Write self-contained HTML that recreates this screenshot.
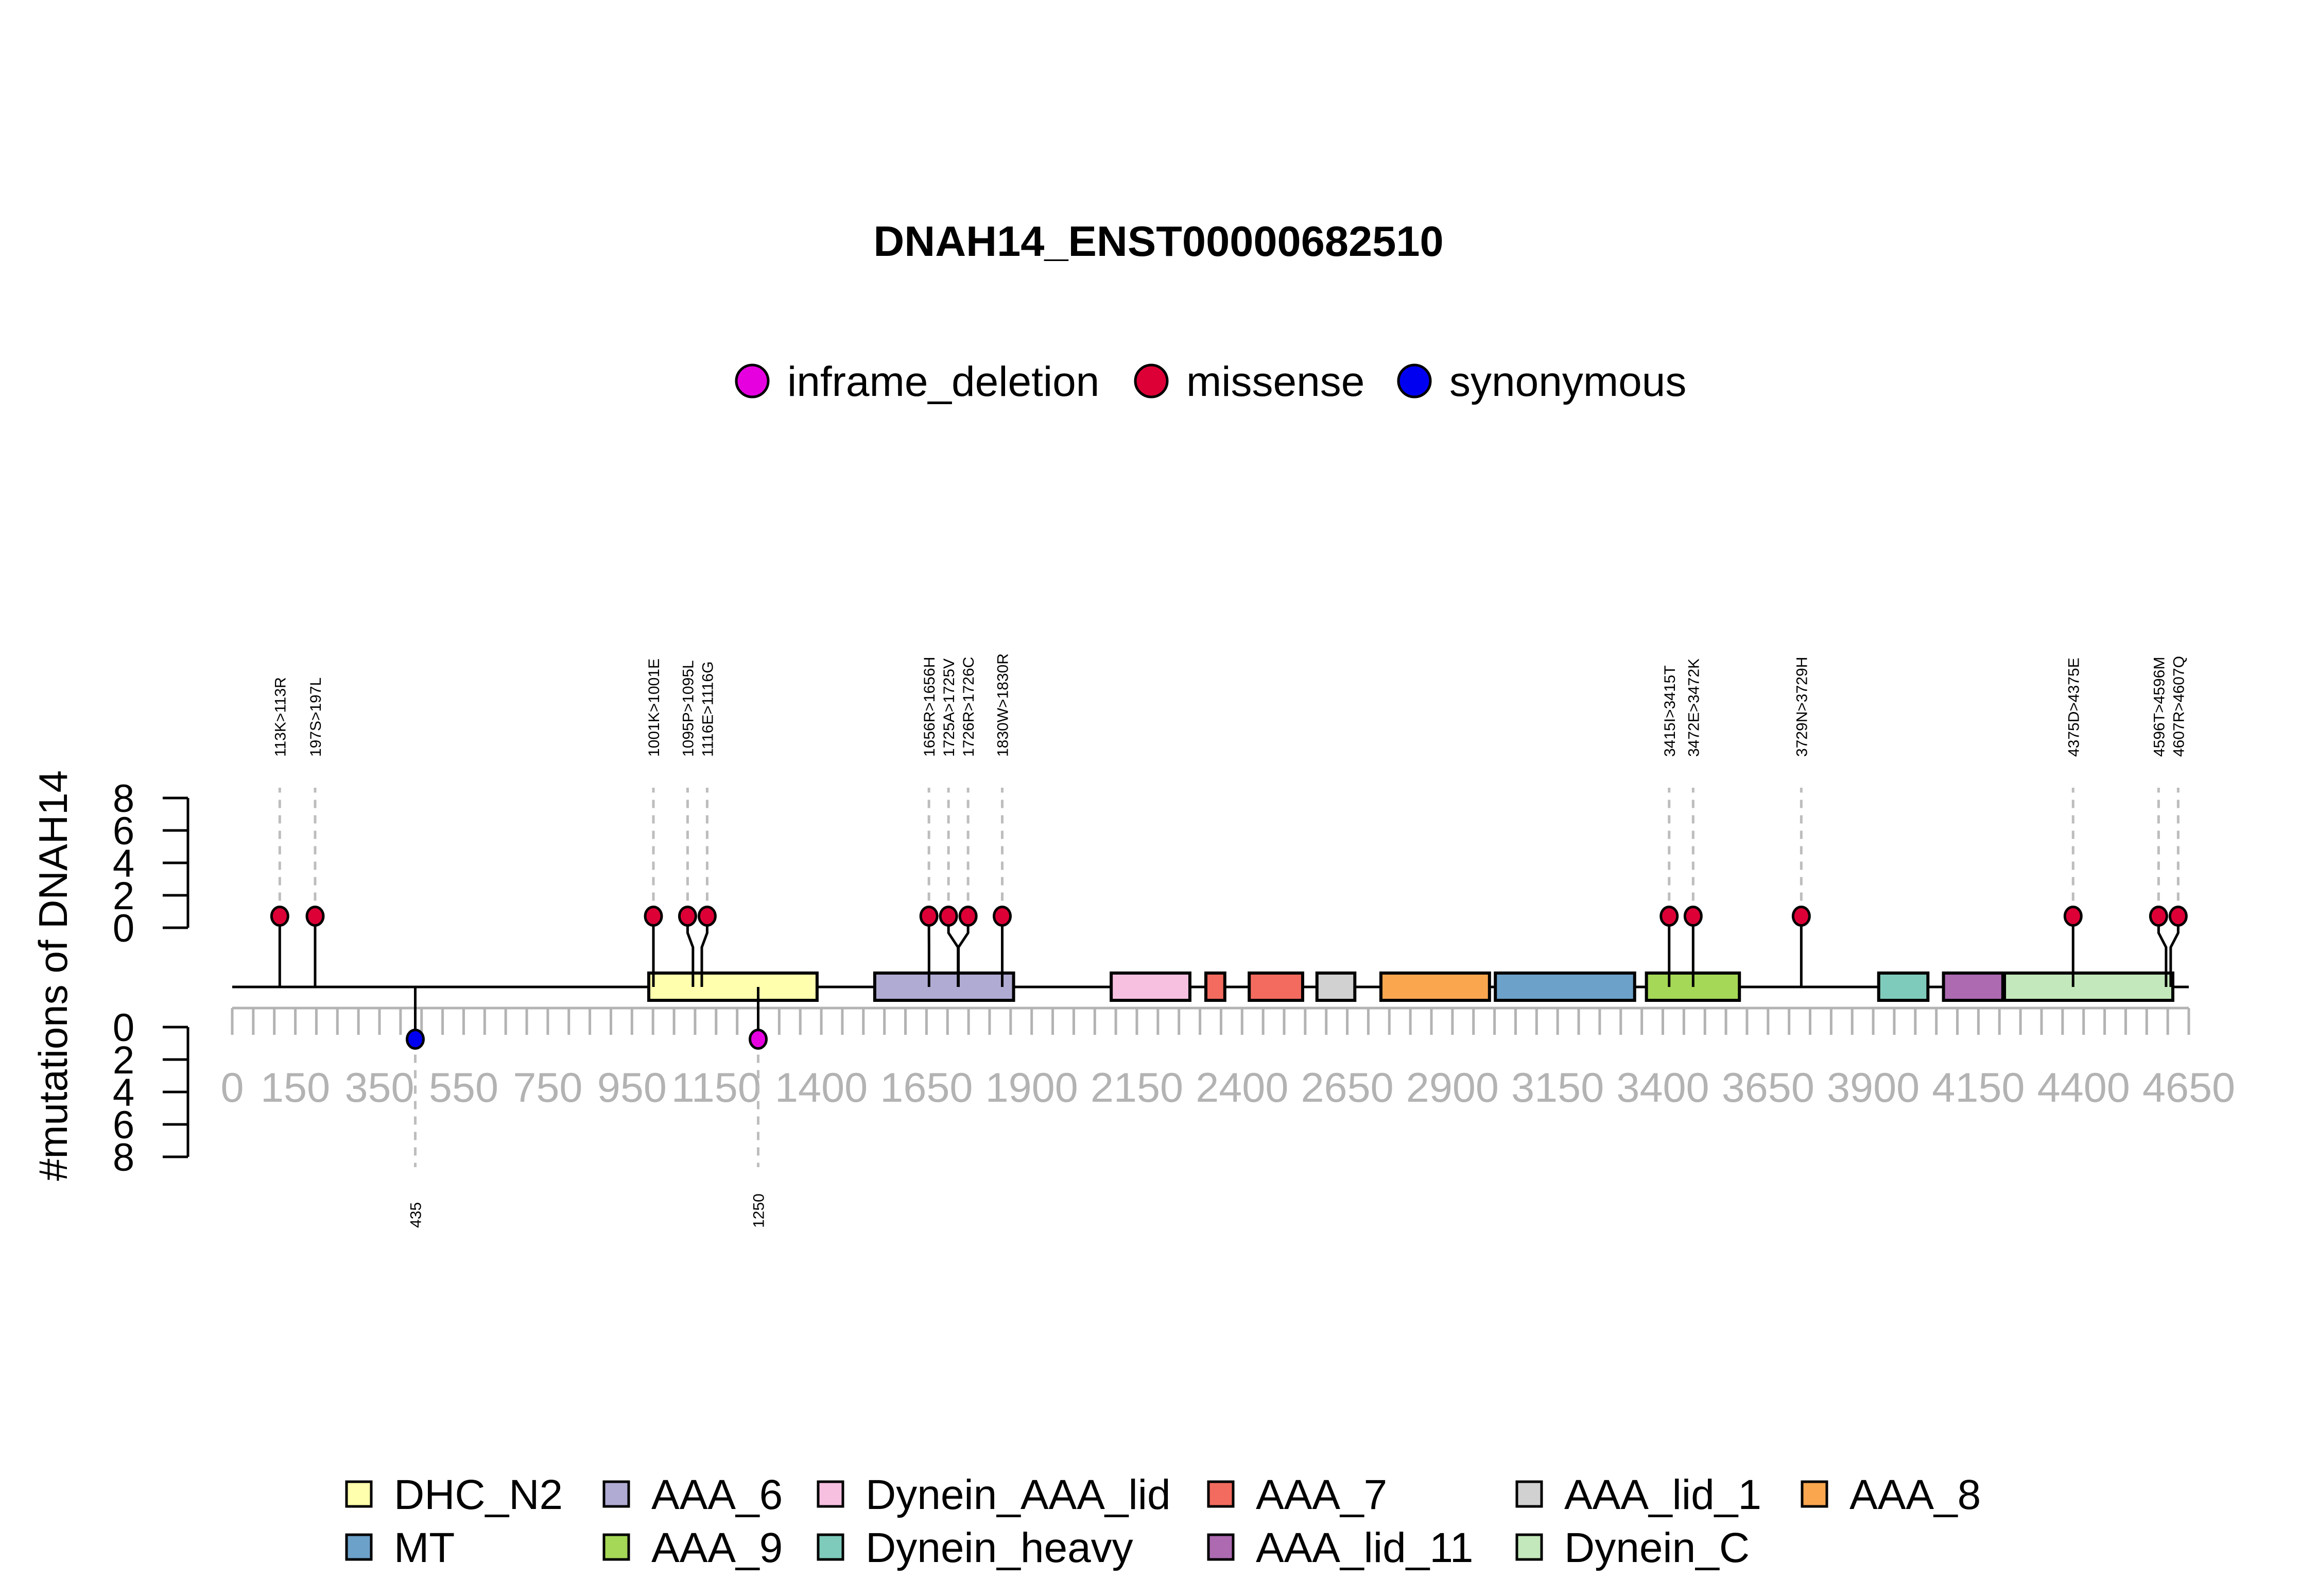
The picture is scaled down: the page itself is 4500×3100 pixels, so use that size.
<!DOCTYPE html>
<html><head><meta charset="utf-8"><style>
html,body{margin:0;padding:0;background:#fff;}
svg{display:block;font-family:"Liberation Sans",Arial,sans-serif;}
</style></head><body>
<svg id="chart" width="4500" height="3100" viewBox="0 0 4500 3100" xmlns="http://www.w3.org/2000/svg">
<rect width="4500" height="3100" fill="#fff"/>
<text x="2250" y="497" font-size="83" font-weight="bold" text-anchor="middle">DNAH14_ENST00000682510</text>
<g id="toplegend"></g>
<text transform="translate(130,1895) rotate(-90)" font-size="78" text-anchor="middle">#mutations of DNAH14</text>
<g id="plot"></g>
<g id="domlegend"></g>
</svg>
<script>
// ---- data ----
const mutPos = [113,197,1001,1095,1116,1656,1725,1726,1830,3415,3472,3729,4375,4596,4607];
const mutLabels = ["113K>113R","197S>197L","1001K>1001E","1095P>1095L","1116E>1116G","1656R>1656H","1725A>1725V","1726R>1726C","1830W>1830R","3415I>3415T","3472E>3472K","3729N>3729H","4375D>4375E","4596T>4596M","4607R>4607Q"];
const mutCounts = [1,1,1,1,1,1,1,1,1,1,1,1,1,1,1];
const mutTypes = ["missense","missense","missense","missense","missense","missense","missense","missense","missense","missense","missense","missense","missense","missense","missense"];
const lowPos = [435,1250];
const lowLabels = ["435","1250"];
const lowCounts = [1,1];
const lowTypes = ["synonymous","inframe_deletion"];
const domNames = ["DHC_N2","AAA_6","Dynein_AAA_lid","AAA_7","AAA_7","AAA_lid_1","AAA_8","MT","AAA_9","Dynein_heavy","AAA_lid_11","Dynein_C"];
const domStart = [990,1527,2089,2314,2417,2578,2730,3002,3361,3913,4067,4212];
const domEnd = [1390,1857,2276,2359,2544,2668,2988,3333,3582,4030,4208,4612];
const xTicks = [0,150,350,550,750,950,1150,1400,1650,1900,2150,2400,2650,2900,3150,3400,3650,3900,4150,4400,4650];
const yTicks = [0,2,4,6,8];
const legendDomains = ["DHC_N2","AAA_6","Dynein_AAA_lid","AAA_7","AAA_lid_1","AAA_8","MT","AAA_9","Dynein_heavy","AAA_lid_11","Dynein_C"];
const typeNames = ["inframe_deletion","missense","synonymous"];
// ---- styles ----
const typeColor = {inframe_deletion:"#e600e0",missense:"#dc0036",synonymous:"#0000f0"};
const domColor = {DHC_N2:"#ffffad",AAA_6:"#b0abd3",Dynein_AAA_lid:"#f7c0e0",AAA_7:"#f36b5f",AAA_lid_1:"#d1d1d1",AAA_8:"#f9a64f",MT:"#6ca1c9",AAA_9:"#a5d856",Dynein_heavy:"#7ecbbb",AAA_lid_11:"#ad6ab1",Dynein_C:"#c3e8bb"};
const NS="http://www.w3.org/2000/svg";
const X0=451, X1=4251, MAXP=4650;
const x = p => X0 + p*(X1-X0)/MAXP;
const yUp = v => 1802 - v*31.5;
const yDn = v => 1995 + v*31.5;
const BB=1917;
function mk(tag, attrs, parent){const e=document.createElementNS(NS,tag);for(const k in attrs)e.setAttribute(k,attrs[k]);parent.appendChild(e);return e;}
const plot=document.getElementById('plot');
// x axis
mk('line',{x1:X0,y1:1958,x2:X1,y2:1958,stroke:"#b3b3b3","stroke-width":5},plot);
for(let p=0;p<=MAXP;p+=50){const t=mk('line',{x1:x(p),y1:1958,x2:x(p),y2:2010,stroke:"#b3b3b3","stroke-width":5},plot);

}
xTicks.forEach(v=>{const t=mk('text',{x:x(v),y:2140,"font-size":81,fill:"#b3b3b3","text-anchor":"middle"},plot);t.textContent=v;

});
// y axes
function yAxis(f,name){
  mk('line',{x1:365,y1:f(0),x2:365,y2:f(8),stroke:"#000","stroke-width":5},plot);
  yTicks.forEach(v=>{mk('line',{x1:316,y1:f(v),x2:365,y2:f(v),stroke:"#000","stroke-width":5},plot);
    const t=mk('text',{x:240,y:f(v)+27,"font-size":76,"text-anchor":"middle"},plot);t.textContent=v;
    
    });
}
yAxis(yUp,'y-axis-upper');yAxis(yDn,'y-axis-lower');
// backbone
const bb=mk('line',{x1:X0,y1:BB,x2:X1,y2:BB,stroke:"#000","stroke-width":5},plot);


// domains
domNames.forEach((n,i)=>{const r=mk('rect',{x:x(domStart[i]),y:1890,width:x(domEnd[i])-x(domStart[i]),height:53,fill:domColor[n],stroke:"#000","stroke-width":6},plot);

});
// repel label positions
function repel(arr,minSep){const px=arr.map(x);let changed=true,it=0;
  while(changed&&it<200){changed=false;it++;
    for(let i=1;i<px.length;i++){if(px[i]-px[i-1]<minSep-0.01){const m=(px[i]+px[i-1])/2;px[i-1]=m-minSep/2;px[i]=m+minSep/2;changed=true;}}}
  return px;}
const upX=repel(mutPos,38);
mutPos.forEach((p,i)=>{
  const cx=upX[i], cy=yUp(mutCounts[i])+9;
  const d=mk('line',{x1:cx,y1:cy,x2:cx,y2:1530,stroke:"#bdbdbd","stroke-width":5,"stroke-dasharray":"16,14"},plot);
  
  const s=mk('polyline',{points:`${x(p)},${BB} ${x(p)},1840 ${cx},1812 ${cx},${cy}`,fill:"none",stroke:"#000","stroke-width":5},plot);
  
  
  const c=mk('ellipse',{cx:cx,cy:cy,rx:16,ry:18,fill:typeColor[mutTypes[i]],stroke:"#000","stroke-width":5},plot);
  
  
  const t=mk('text',{transform:`translate(${cx+11},1470) rotate(-90)`,"font-size":30},plot);t.textContent=mutLabels[i];
  
  
});
lowPos.forEach((p,i)=>{
  const cx=x(p), cy=yDn(lowCounts[i])-8;
  const d=mk('line',{x1:cx,y1:cy,x2:cx,y2:2267,stroke:"#bdbdbd","stroke-width":5,"stroke-dasharray":"16,14"},plot);
  
  const s=mk('line',{x1:cx,y1:BB,x2:cx,y2:cy,stroke:"#000","stroke-width":5},plot);
  
  const c=mk('ellipse',{cx:cx,cy:cy,rx:16,ry:18,fill:typeColor[lowTypes[i]],stroke:"#000","stroke-width":5},plot);
  
  
  const t=mk('text',{transform:`translate(${cx+11},2385) rotate(-90)`,"font-size":30},plot);t.textContent=lowLabels[i];
  
  
});
// top legend
const tl=document.getElementById('toplegend');
const tlX=[1461,2236,2747];
typeNames.forEach((n,i)=>{
  const c=mk('circle',{cx:tlX[i],cy:740,r:31,fill:typeColor[n],stroke:"#000","stroke-width":5},tl);
  
  
  const t=mk('text',{x:tlX[i]+68,y:769,"font-size":82},tl);t.textContent=n;
  
  
});
// domain legend
const dl=document.getElementById('domlegend');
const colX=[697,1197,1613,2371,2970,3524];
legendDomains.forEach((n,i)=>{
  const col=i%6,row=Math.floor(i/6);const cx=colX[col],cy=2902+row*103;
  const r=mk('rect',{x:cx-24,y:cy-24,width:48,height:48,fill:domColor[n],stroke:"#000","stroke-width":5},dl);
  
  
  const t=mk('text',{x:cx+68,y:cy+29,"font-size":82},dl);t.textContent=n;
  
  
});
</script>
</body></html>
